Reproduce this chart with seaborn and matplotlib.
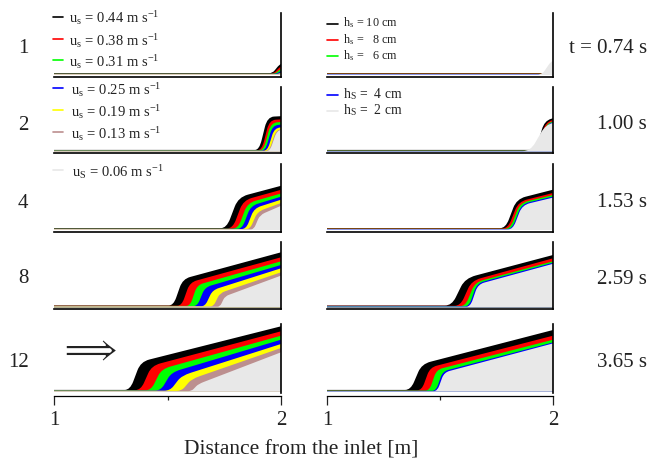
import matplotlib
matplotlib.use("Agg")
import matplotlib.pyplot as plt
from matplotlib.path import Path
from matplotlib.patches import PathPatch
from matplotlib.lines import Line2D
import seaborn as sns

# ---------------- data ----------------
row_labels = ["1", "2", "4", "8", "12"]
time_labels = ["t = 0.74 s", "1.00 s", "1.53 s", "2.59 s", "3.65 s"]

us_values = ["0.44", "0.38", "0.31", "0.25", "0.19", "0.13", "0.06"]
hs_values = ["10", "  8", "  6", " 4", " 2"]

# left column: one row per time, one value per u_s
# toe of the front [m]
left_toe = [
    [1.962, 1.968, 1.974, 1.979, 1.984, 1.988, 1.992],
    [1.904, 1.915, 1.922, 1.931, 1.940, 1.948, 1.951],
    [1.760, 1.787, 1.810, 1.828, 1.846, 1.863, 1.880],
    [1.526, 1.562, 1.599, 1.631, 1.665, 1.702, 1.731],
    [1.335, 1.382, 1.427, 1.470, 1.511, 1.562, 1.606],
]
# top of the front step [m]
left_knee_x = [
    [1.992, 1.994, 1.996, 1.997, 1.998, 1.999, 2.000],
    [1.940, 1.949, 1.956, 1.963, 1.971, 1.979, 1.982],
    [1.812, 1.834, 1.853, 1.867, 1.882, 1.897, 1.907],
    [1.567, 1.599, 1.631, 1.665, 1.699, 1.731, 1.753],
    [1.382, 1.430, 1.474, 1.518, 1.562, 1.606, 1.636],
]
# thickness at the top of the step
left_knee_h = [
    [10.2, 7.8, 5.6, 3.6, 2.0, 1.3, 1.0],
    [34.8, 31.6, 29.0, 26.4, 23.7, 21.9, 21.2],
    [32.8, 29.7, 27.0, 24.2, 21.7, 18.4, 15.0],
    [28.3, 25.0, 22.3, 20.0, 17.3, 14.3, 11.0],
    [30.0, 26.0, 22.7, 19.4, 16.0, 12.7, 7.7],
]
# thickness at x = 2 m
left_end_h = [
    [11.0, 8.3, 6.0, 4.0, 2.3, 1.5, 1.0],
    [35.5, 32.3, 29.7, 27.0, 24.3, 22.4, 21.7],
    [44.2, 40.2, 36.5, 33.3, 30.3, 27.0, 24.2],
    [55.0, 50.0, 46.0, 42.3, 39.0, 35.0, 31.7],
    [65.4, 60.4, 56.0, 52.0, 47.7, 43.7, 39.4],
]
left_base = [1.8, 1.6, 1.4, 1.2, 1.0, 0.8, 0.6]

# right column: one row per time, one value per h_s
right_toe = [
    [1.975, 1.977, 1.979, 1.981, 1.952],
    [1.925, 1.932, 1.937, 1.940, 1.900],
    [1.790, 1.800, 1.810, 1.818, 1.822],
    [1.552, 1.590, 1.612, 1.628, 1.634],
    [1.370, 1.419, 1.453, 1.482, 1.488],
]
right_knee_x = [
    [1.995, 1.996, 1.997, 1.998, 1.990],
    [1.962, 1.967, 1.971, 1.974, 1.968],
    [1.839, 1.847, 1.854, 1.861, 1.864],
    [1.611, 1.640, 1.655, 1.664, 1.668],
    [1.419, 1.456, 1.485, 1.512, 1.518],
]
right_knee_h = [
    [7.0, 6.0, 5.0, 4.5, 13.3],
    [31.0, 29.8, 29.0, 28.4, 27.3],
    [31.0, 28.3, 27.0, 26.0, 25.0],
    [29.0, 26.6, 25.0, 24.0, 23.0],
    [27.7, 24.3, 22.0, 20.3, 19.3],
]
right_end_h = [
    [7.3, 6.3, 5.3, 4.8, 14.3],
    [33.4, 31.6, 30.2, 29.4, 28.7],
    [40.3, 37.0, 35.0, 33.5, 32.4],
    [52.3, 49.0, 46.0, 44.6, 43.5],
    [61.7, 56.0, 52.0, 49.3, 48.3],
]
right_base = [1.8, 1.5, 1.2, 0.9, 0.6]

# ---------------- style ----------------
us_colors = ["#000000", "#ff0000", "#00ff00", "#0000ff", "#ffff00", "#bc8f8f", "#e8e8e8"]
hs_colors = ["#000000", "#ff0000", "#00ff00", "#0000ff", "#e8e8e8"]

sns.set_theme(style="ticks", rc={"axes.edgecolor": "black", "axes.linewidth": 1.2})
plt.rcParams["font.family"] = ["Liberation Serif", "DejaVu Serif"]
plt.rcParams["mathtext.fontset"] = "stix"
plt.rcParams["text.color"] = "#222222"
plt.rcParams["xtick.color"] = "#222222"

W, H = 649, 464
col_x = [(54, 281), (327, 553)]
row_top = [14, 88, 165, 243, 325]
row_base = [76, 152.7, 231, 308.3, 392.7]

fig = plt.figure(figsize=(W / 100, H / 100), dpi=100)


def front_patch(toe, kx, kh, eh, b, color):
    # polyline bed -> toe -> knee -> x=2, drawn with rounded corners at toe and knee
    dx = kx - toe
    dy = kh - b
    s = (eh - kh) / (2 - kx) if kx < 2 else 0.0
    a = (toe - 0.5 * dx, b)
    p1 = (toe + 0.3 * dx, b + 0.3 * dy)
    p2 = (kx - 0.3 * dx, kh - 0.3 * dy)
    if kx + 0.8 * dx < 2:
        d = (kx + 0.8 * dx, kh + 0.8 * dx * s)
    else:
        d = (2.0, eh)
    verts = [(1.0, 0.0), (1.0, b), a, (toe, b), p1, p2, (kx, kh), d,
             (2.0, eh), (2.0, 0.0), (1.0, 0.0)]
    codes = [Path.MOVETO, Path.LINETO, Path.LINETO, Path.CURVE3, Path.CURVE3,
             Path.LINETO, Path.CURVE3, Path.CURVE3,
             Path.LINETO, Path.LINETO, Path.CLOSEPOLY]
    return PathPatch(Path(verts, codes), facecolor=color, edgecolor="none")


columns = [
    (left_toe, left_knee_x, left_knee_h, left_end_h, left_base, us_colors),
    (right_toe, right_knee_x, right_knee_h, right_end_h, right_base, hs_colors),
]

for c, (toe, kx, kh, eh, base, colors) in enumerate(columns):
    x0, x1 = col_x[c]
    for r in range(5):
        bottom = row_base[r] + 1.5
        ax = fig.add_axes([x0 / W, 1 - bottom / H, (x1 - x0) / W, (bottom - row_top[r]) / H])
        for i, color in enumerate(colors):
            ax.add_patch(front_patch(toe[r][i], kx[r][i], kh[r][i], eh[r][i], base[i], color))
        ax.set_xlim(1, 2)
        ax.set_ylim(-1.5, row_base[r] - row_top[r])
        ax.set_yticks([])
        sns.despine(ax=ax, left=True, top=True, right=False)
        if r == 4:
            ax.spines["bottom"].set_position(("outward", 1.8))
            ax.spines["bottom"].set_linewidth(0.9)
            ax.set_xticks([1, 2])
            ax.set_xticklabels(["1", "2"])
            ax.set_xticks([1.5], minor=True)
            ax.tick_params(axis="x", which="major", length=6.5, width=0.9, labelsize=15, pad=4)
            ax.tick_params(axis="x", which="minor", length=3, width=0.9)
            if c == 0:
                ax.text(0.155, 0.64, r"$\Longrightarrow$", transform=ax.transAxes,
                        ha="center", va="center", fontsize=24, color="#222222")
        else:
            ax.set_xticks([])

# row labels and times
label_base = [53.3, 130, 208.3, 283.3, 367.3]
time_base = [53.3, 129, 207.3, 284, 367.3]
for r in range(5):
    fig.text(28.5 / W, 1 - label_base[r] / H, row_labels[r], ha="right", va="baseline", fontsize=15)
    fig.text(647 / W, 1 - time_base[r] / H, time_labels[r], ha="right", va="baseline", fontsize=15)

fig.text(301 / W, 1 - 455 / H, "Distance from the inlet [m]", ha="center", va="baseline", fontsize=15.5)


def key(xl, yl, xt, yt, color, label, size):
    fig.add_artist(Line2D([xl[0] / W, xl[1] / W], [1 - yl / H, 1 - yl / H],
                          color=color, lw=1.2, transform=fig.transFigure))
    fig.text(xt / W, 1 - yt / H, label, fontsize=size, ha="left", va="baseline")


# legend of u_s
us_base = [23.3, 45.5, 66.8, 95, 116.8, 138.5, 176.7]
us_text_x = [69, 69, 69, 71, 71, 71, 71.5]
for i, v in enumerate(us_values):
    sub = "S" if i == 6 else "s"
    lab = "u$_\\mathregular{%s}$ = %s m s$^\\mathregular{-1}$" % (sub, v)
    key((53, 63), us_base[i] - 5.7, us_text_x[i], us_base[i], us_colors[i], lab, 10.5)

# legend of h_s
hs_base = [26.7, 43.3, 59.3, 98.3, 114.3]
for i, v in enumerate(hs_values):
    sub = "S" if i >= 3 else "s"
    size = 8.7 if i < 3 else 9.8
    lab = "h$_\\mathregular{%s}$ = %s cm" % (sub, v)
    key((327, 338), hs_base[i] - 2, 343, hs_base[i], hs_colors[i], lab, size)

fig.savefig("out.png", dpi=100)
